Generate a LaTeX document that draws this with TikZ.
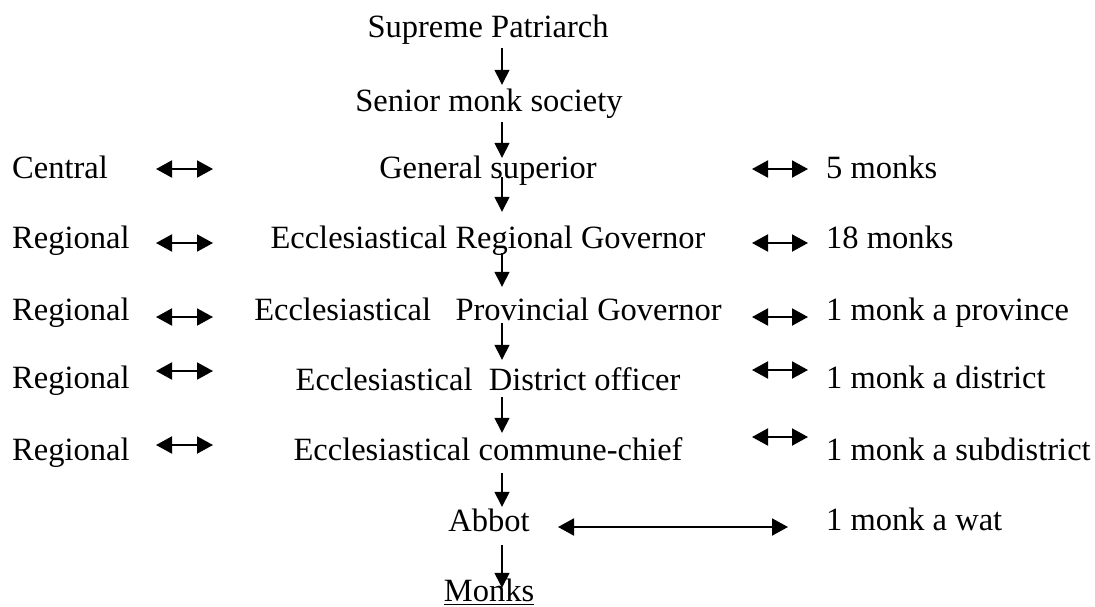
\documentclass[tikz,border=0pt]{standalone}
\usepackage{fontspec}
\setmainfont{Liberation Serif}
\usetikzlibrary{arrows.meta}
\begin{document}
\begin{tikzpicture}[x=1pt,y=-1pt,
  lbl/.style={inner sep=0pt,text height=22pt,text depth=7pt,
    font=\fontsize{32.5}{38}\selectfont},
  mid/.style={lbl,anchor=base},
  side/.style={lbl,anchor=base west},
  down/.style={line width=1.4pt,-{Triangle[length=15pt,width=15pt]}},
  both/.style={line width=2pt,{Triangle[length=16pt,width=17pt]}-{Triangle[length=16pt,width=17pt]}}]
\useasboundingbox (0,0) rectangle (1095,606);

% vertical spine of the hierarchy
\coordinate (spine) at (502,0);

% hierarchy levels
\node[mid] (sp) at (488,37)  {Supreme Patriarch};
\node[mid] (sm) at (489,111) {Senior monk society};
\node[mid] (gs) at (488,178) {General superior};
\node[mid] (rg) at (488,248) {Ecclesiastical Regional Governor};
\node[mid] (pg) at (488,320) {Ecclesiastical\ \ \ Provincial Governor};
\node[mid] (dg) at (488,390) {Ecclesiastical\ \ District officer};
\node[mid] (cc) at (488,460) {Ecclesiastical commune-chief};
\node[mid] (ab) at (489,531) {Abbot};
\node[mid] (mk) at (489,601) {Monks};
\draw[line width=1.3pt] ([yshift=-3.5pt]mk.base west) -- ([yshift=-3.5pt]mk.base east);

% level of administration
\node[side] (l1) at (12,178) {Central};
\node[side] (l2) at (12,248) {Regional};
\node[side] (l3) at (12,320) {Regional};
\node[side] (l4) at (12,388) {Regional};
\node[side] (l5) at (12,460) {Regional};

% number of monks
\node[side] (r1) at (826,178) {5 monks};
\node[side] (r2) at (826,248) {18 monks};
\node[side] (r3) at (826,320) {1 monk a province};
\node[side] (r4) at (826,388) {1 monk a district};
\node[side] (r5) at (826,460) {1 monk a subdistrict};
\node[side] (r6) at (826,530) {1 monk a wat};

% chain of command
\draw[down] ([yshift=-4pt]sp.south -| spine) -- ([yshift=4pt]sm.north -| spine);
\draw[down] ([yshift=-4pt]sm.south -| spine) -- ([yshift=-2pt]gs.north -| spine);
\draw[down] ([yshift=8pt]gs.south -| spine)  -- ([yshift=14pt]rg.north -| spine);
\draw[down] ([yshift=2pt]rg.south -| spine)  -- ([yshift=11pt]pg.north -| spine);
\draw[down] ([yshift=4pt]pg.south -| spine)  -- ([yshift=8pt]dg.north -| spine);
\draw[down] (dg.south -| spine)              -- ([yshift=5pt]cc.north -| spine);
\draw[down] ([yshift=-6pt]cc.south -| spine) -- ([yshift=2pt]ab.north -| spine);
\draw[down] ([yshift=-7pt]ab.south -| spine) -- ([yshift=-9pt]mk.north -| spine);

% links to the side columns
\coordinate (la1) at (156,169); \coordinate (lb1) at (213,169);
\coordinate (la2) at (156,243); \coordinate (lb2) at (213,243);
\coordinate (la3) at (156,317); \coordinate (lb3) at (213,317);
\coordinate (la4) at (156,371); \coordinate (lb4) at (213,371);
\coordinate (la5) at (156,445); \coordinate (lb5) at (213,445);
\coordinate (ra1) at (752,169); \coordinate (rb1) at (808,169);
\coordinate (ra2) at (752,243); \coordinate (rb2) at (808,243);
\coordinate (ra3) at (752,317); \coordinate (rb3) at (808,317);
\coordinate (ra4) at (752,370); \coordinate (rb4) at (808,370);
\coordinate (ra5) at (752,437); \coordinate (rb5) at (808,437);
\coordinate (ra6) at (558,527); \coordinate (rb6) at (788,527);
\foreach \i in {1,...,5}{
  \draw[both] (la\i) -- (lb\i);
  \draw[both] (ra\i) -- (rb\i);
}
\draw[both] (ra6) -- (rb6);
\end{tikzpicture}
\end{document}
